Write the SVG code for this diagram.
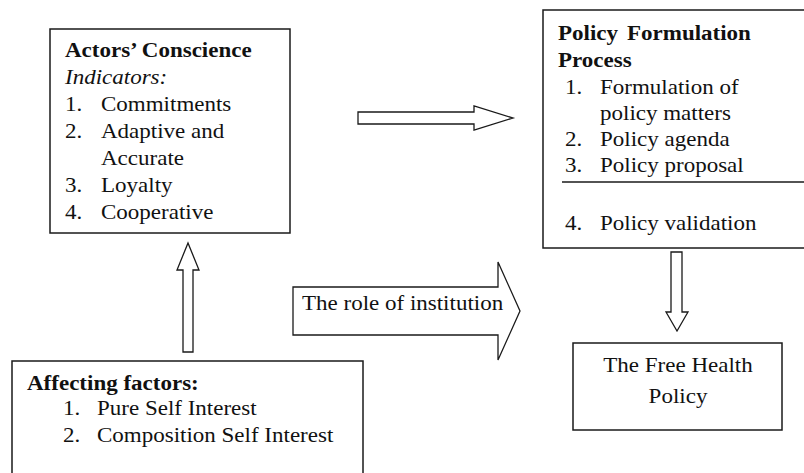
<svg xmlns="http://www.w3.org/2000/svg" width="804" height="473" viewBox="0 0 804 473">
<style>
.box{fill:#fff;stroke:#1a1a1a;stroke-width:1.5}
.arr{fill:#fff;stroke:#1a1a1a;stroke-width:1.3;stroke-linejoin:miter}
.t{font-family:'Liberation Serif','DejaVu Serif',serif;font-size:20px;fill:#111}
.b{font-weight:bold}
.i{font-style:italic}
</style>
<rect width="804" height="473" fill="#fff"/>
<g id="connectors">
<polygon class="arr" points="358,112 474,112 474,106 513,118 474,130 474,124 358,124"/>
<polygon class="arr" points="183,352 183,270 177,270 188,243 199,270 193,270 193,352"/>
<polygon class="arr" points="293,287 498,287 498,262 520,311 498,360 498,335 293,335"/>
<polygon class="arr" points="671,252 682,252 682,312 688,312 677,331 666,312 671,312"/>
<text class="t" transform="matrix(1.15 0 0 1 302 310)" font-size="18.5">The role of institution</text>
</g>
<g id="actors">
<rect class="box" x="50" y="29" width="240" height="204"/>
<text class="t b" transform="matrix(1.15 0 0 1 65 57)">Actors’ Conscience</text>
<text class="t i" transform="matrix(1.15 0 0 1 65 84)">Indicators:</text>
<text class="t" transform="matrix(1.15 0 0 1 65 111)">1.</text><text class="t" transform="matrix(1.15 0 0 1 101 111)">Commitments</text>
<text class="t" transform="matrix(1.15 0 0 1 65 138)">2.</text><text class="t" transform="matrix(1.15 0 0 1 101 138)">Adaptive and</text>
<text class="t" transform="matrix(1.15 0 0 1 101 165)">Accurate</text>
<text class="t" transform="matrix(1.15 0 0 1 65 192)">3.</text><text class="t" transform="matrix(1.15 0 0 1 101 192)">Loyalty</text>
<text class="t" transform="matrix(1.15 0 0 1 65 219)">4.</text><text class="t" transform="matrix(1.15 0 0 1 101 219)">Cooperative</text>
</g>
<g id="policy">
<rect class="box" x="543" y="10" width="270" height="238"/>
<line x1="562" y1="182" x2="804" y2="182" stroke="#1a1a1a" stroke-width="1.3"/>
<text class="t b" transform="matrix(1.15 0 0 1 558 40)">Policy</text><text class="t b" transform="matrix(1.15 0 0 1 627 40)">Formulation</text>
<text class="t b" transform="matrix(1.15 0 0 1 558 67)">Process</text>
<text class="t" transform="matrix(1.15 0 0 1 565 94)">1.</text><text class="t" transform="matrix(1.15 0 0 1 600 94)">Formulation of</text>
<text class="t" transform="matrix(1.15 0 0 1 600 120)">policy matters</text>
<text class="t" transform="matrix(1.15 0 0 1 565 146)">2.</text><text class="t" transform="matrix(1.15 0 0 1 600 146)">Policy agenda</text>
<text class="t" transform="matrix(1.15 0 0 1 565 172)">3.</text><text class="t" transform="matrix(1.15 0 0 1 600 172)">Policy proposal</text>
<text class="t" transform="matrix(1.15 0 0 1 565 230)">4.</text><text class="t" transform="matrix(1.15 0 0 1 600 230)">Policy validation</text>
</g>
<g id="free-health">
<rect class="box" x="573" y="343" width="209" height="87"/>
<text class="t" transform="matrix(1.15 0 0 1 678 372)" text-anchor="middle">The Free Health</text>
<text class="t" transform="matrix(1.15 0 0 1 678 403)" text-anchor="middle">Policy</text>
</g>
<g id="affecting">
<rect class="box" x="12" y="361" width="351" height="130"/>
<text class="t b" transform="matrix(1.15 0 0 1 27 390)">Affecting factors:</text>
<text class="t" transform="matrix(1.15 0 0 1 63 415)">1.</text><text class="t" transform="matrix(1.15 0 0 1 97 415)">Pure Self Interest</text>
<text class="t" transform="matrix(1.15 0 0 1 63 442)">2.</text><text class="t" transform="matrix(1.15 0 0 1 97 442)">Composition Self Interest</text>
</g>
</svg>
